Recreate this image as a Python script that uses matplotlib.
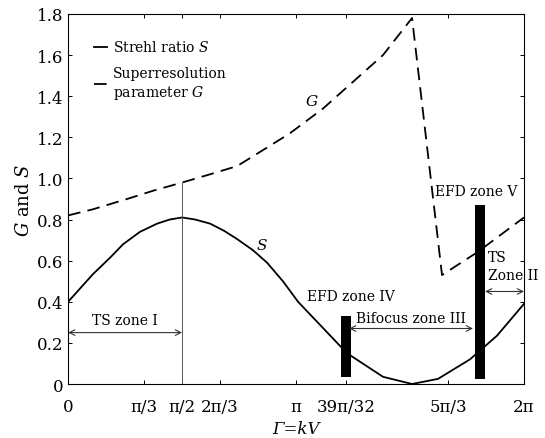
import numpy as np
import matplotlib
matplotlib.use('Agg')
import matplotlib.pyplot as plt

plt.rcParams['font.family'] = 'DejaVu Serif'
plt.rcParams['mathtext.fontset'] = 'dejavuserif'

# Strehl ratio S ja superresoluutioparametri G (luettu kuvasta)
gamma_s = [0, 0.344, 0.58, 0.758, 0.99, 1.226, 1.40, 1.571, 1.75, 1.957,
           2.15, 2.329, 2.55, 2.742, 2.96, 3.169, 3.748, 3.886, 4.340,
           4.740, 5.098, 5.539, 5.911, 6.283]
strehl = [0.40, 0.535, 0.615, 0.68, 0.74, 0.78, 0.80, 0.81, 0.80, 0.78,
          0.745, 0.705, 0.65, 0.59, 0.50, 0.40, 0.185, 0.14, 0.035,
          0.0, 0.025, 0.12, 0.235, 0.39]

gamma_g = [0, 0.344, 0.813, 1.171, 1.571, 1.957, 2.329, 2.742, 3.059,
           3.514, 4.340, 4.740, 5.153, 5.636, 6.283]
superres = [0.82, 0.85, 0.90, 0.94, 0.98, 1.02, 1.06, 1.15, 1.22,
            1.34, 1.60, 1.78, 0.53, 0.64, 0.81]

# vyöhykkeiden rajat
bar_x = [39 * np.pi / 32, 5.677]
bar_bottom = [0.035, 0.025]
bar_top = [0.33, 0.87]

xtick_vals = [0, np.pi / 3, np.pi / 2, 2 * np.pi / 3, np.pi, 39 * np.pi / 32,
              5 * np.pi / 3, 2 * np.pi]
xtick_labels = ['0', 'π/3', 'π/2', '2π/3', 'π', '39π/32', '5π/3', '2π']
ytick_vals = [0, 0.2, 0.4, 0.6, 0.8, 1.0, 1.2, 1.4, 1.6, 1.8]
ytick_labels = ['0', '0.2', '0.4', '0.6', '0.8', '1.0', '1.2', '1.4', '1.6', '1.8']

fig = plt.figure(figsize=(5.45, 4.39), dpi=100)
ax = fig.add_axes([0.125, 0.123, 0.8365, 0.843])

ax.plot(gamma_s, strehl, color='black', lw=1.3, label='Strehl ratio $S$')
ax.plot(gamma_g, superres, color='black', lw=1.3, dashes=(7, 4),
        label='Superresolution\nparameter $G$')

# pystyviiva kohdassa pi/2
ax.plot([np.pi / 2, np.pi / 2], [0, superres[4]], color='#555555', lw=0.7)

ax.bar(bar_x, np.array(bar_top) - np.array(bar_bottom), bottom=bar_bottom,
       width=0.13, color='black')

arrow = dict(arrowstyle='<->', color='#333333', lw=0.8, shrinkA=0, shrinkB=0)
ax.annotate('', xy=(0, 0.25), xytext=(np.pi / 2, 0.25), arrowprops=arrow)
ax.annotate('', xy=(3.871, 0.27), xytext=(5.580, 0.27), arrowprops=arrow)
ax.annotate('', xy=(5.746, 0.45), xytext=(2 * np.pi, 0.45), arrowprops=arrow)

ax.text(np.pi / 4, 0.31, 'TS zone I', ha='center', va='center', fontsize=10)
ax.text(4.73, 0.32, 'Bifocus zone III', ha='center', va='center', fontsize=10)
ax.text(3.90, 0.43, 'EFD zone IV', ha='center', va='center', fontsize=10)
ax.text(5.63, 0.94, 'EFD zone V', ha='center', va='center', fontsize=10)
ax.text(5.78, 0.62, 'TS', ha='left', va='center', fontsize=10)
ax.text(5.78, 0.53, 'Zone II', ha='left', va='center', fontsize=10)
ax.text(2.67, 0.68, '$S$', fontsize=11, ha='center', va='center')
ax.text(3.36, 1.38, '$G$', fontsize=11, ha='center', va='center')

ax.set_xlim(0, 2 * np.pi)
ax.set_ylim(0, 1.8)
ax.set_xticks(xtick_vals)
ax.set_xticklabels(xtick_labels, fontsize=12)
ax.set_yticks(ytick_vals)
ax.set_yticklabels(ytick_labels, fontsize=12)
ax.tick_params(direction='in', top=True, right=True, length=3, width=0.7)
ax.tick_params(axis='x', pad=10)
for s in ax.spines.values():
    s.set_linewidth(0.8)

ax.set_xlabel('Γ=kV', style='italic', fontsize=12, labelpad=4)
ax.set_ylabel('$G$ and $S$', fontsize=13, labelpad=3)

ax.legend(loc='upper left', bbox_to_anchor=(0.03, 0.965), frameon=False,
          fontsize=10, handlelength=0.95, handletextpad=0.4, labelspacing=0.85)

plt.savefig('out.png', dpi=100)
